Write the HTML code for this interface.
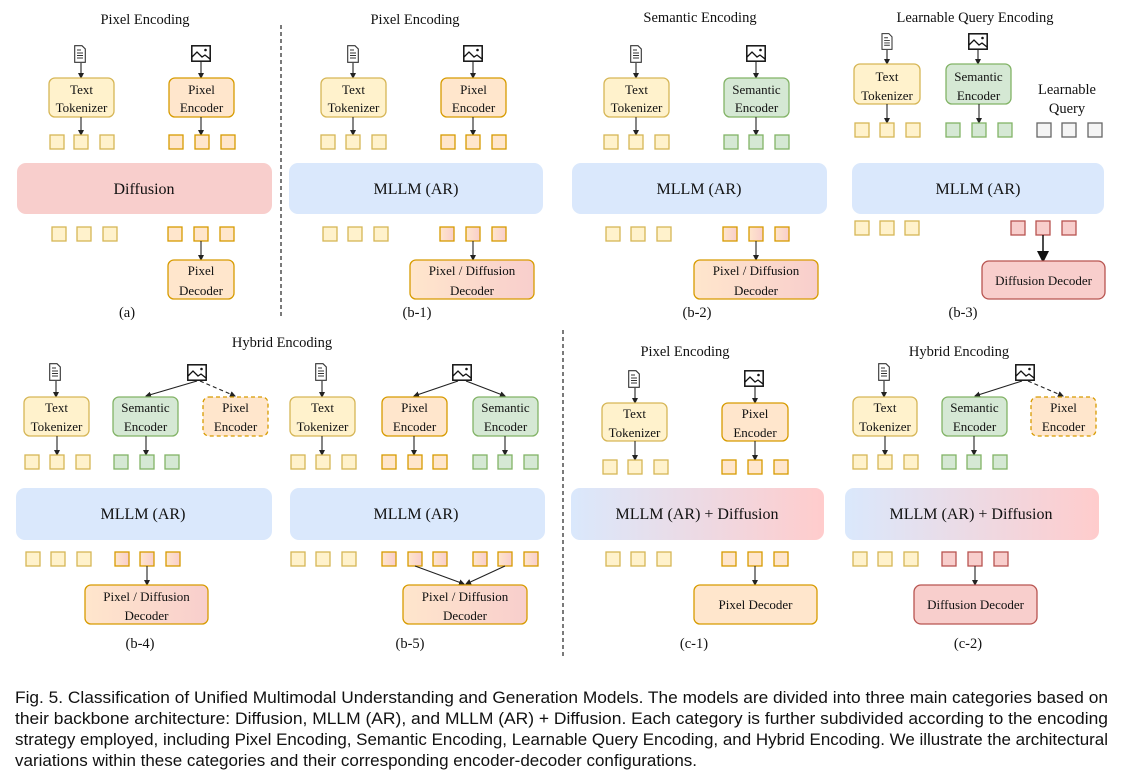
<!DOCTYPE html>
<html><head><meta charset="utf-8"><style>
html,body{margin:0;padding:0;background:#fff}
svg{display:block}
text{font-family:"Liberation Serif",serif;fill:#111}
.t{font-size:14.5px;text-anchor:middle}
.b{font-size:13px;text-anchor:middle}
.L{font-size:16px;text-anchor:middle}
.c{font-family:"Liberation Sans",sans-serif;font-size:16.5px;fill:#111}
.y{fill:#fff2cc;stroke:#d6b656;stroke-width:1.3}
.o{fill:#ffe6cc;stroke:#d79b00;stroke-width:1.3}
.g{fill:#d5e8d4;stroke:#82b366;stroke-width:1.3}
.r{fill:#f8cecc;stroke:#b85450;stroke-width:1.3}
.gr{fill:#f5f5f5;stroke:#666;stroke-width:1.3}
.op{fill:url(#gop);stroke:#d79b00;stroke-width:1.3}
.a{stroke:#222;stroke-width:1.1;fill:none;marker-end:url(#ah)}
.d{stroke:#222;stroke-width:1.1;fill:none;stroke-dasharray:4 3;marker-end:url(#ah)}
</style></head><body>
<svg width="1123" height="782" viewBox="0 0 1123 782" xmlns="http://www.w3.org/2000/svg">
<defs>
<linearGradient id="gop" x1="0" x2="1" y1="0" y2="0"><stop offset="0" stop-color="#ffe6cc"/><stop offset="1" stop-color="#f8cecc"/></linearGradient>
<linearGradient id="gbp" x1="0" x2="1" y1="0" y2="0"><stop offset="0" stop-color="#dae8fc"/><stop offset="1" stop-color="#ffcccc"/></linearGradient>
<marker id="ah" markerWidth="6" markerHeight="6" refX="5" refY="3" orient="auto" markerUnits="userSpaceOnUse"><path d="M0,0 L6,3 L0,6 z" fill="#222"/></marker>
<marker id="ahb" markerWidth="12" markerHeight="12" refX="10" refY="6" orient="auto" markerUnits="userSpaceOnUse"><path d="M0,0 L12,6 L0,12 z" fill="#111"/></marker>
<symbol id="doc" viewBox="0 0 12 18"><path d="M0.7,0.7 H8 L11.3,4 V17.3 H0.7 Z" fill="#fff" stroke="#333" stroke-width="1.1"/><path d="M3,5 H7 M3,8 H9 M3,10.5 H9 M3,13 H9" stroke="#333" stroke-width="1"/></symbol>
<symbol id="img" viewBox="0 0 20 17"><rect x="0.8" y="0.8" width="18.4" height="15.4" fill="#fff" stroke="#111" stroke-width="1.5"/><path d="M1,12 L6,7 L11,12 L14,10 L19,14" fill="none" stroke="#111" stroke-width="1.3"/><circle cx="14.5" cy="5" r="1.3" fill="#111"/></symbol>
</defs>

<line x1="281" y1="25" x2="281" y2="318" stroke="#333" stroke-width="1.3" stroke-dasharray="4 3"/>
<line x1="563" y1="330" x2="563" y2="656" stroke="#333" stroke-width="1.3" stroke-dasharray="4 3"/>

<!-- (a) -->
<text class="t" x="145" y="24">Pixel Encoding</text>
<use href="#doc" x="74" y="45" width="12" height="18"/>
<use href="#img" x="191" y="45" width="20" height="17"/>
<line class="a" x1="81" y1="63" x2="81" y2="78"/>
<line class="a" x1="201" y1="62" x2="201" y2="78"/>
<rect class="y" x="49" y="78" width="65" height="39" rx="6"/><text class="b" x="81.5" y="94">Text</text><text class="b" x="81.5" y="112">Tokenizer</text>
<rect class="o" x="169" y="78" width="65" height="39" rx="6"/><text class="b" x="201.5" y="94">Pixel</text><text class="b" x="201.5" y="112">Encoder</text>
<line class="a" x1="81" y1="117" x2="81" y2="135"/>
<line class="a" x1="201" y1="117" x2="201" y2="135"/>
<rect class="y" x="50" y="135" width="14" height="14"/><rect class="y" x="74" y="135" width="14" height="14"/><rect class="y" x="100" y="135" width="14" height="14"/>
<rect class="o" x="169" y="135" width="14" height="14"/><rect class="o" x="195" y="135" width="14" height="14"/><rect class="o" x="221" y="135" width="14" height="14"/>
<rect x="17" y="163" width="255" height="51" rx="9" fill="#f8cecc"/><text class="L" x="144" y="194">Diffusion</text>
<rect class="y" x="52" y="227" width="14" height="14"/><rect class="y" x="77" y="227" width="14" height="14"/><rect class="y" x="103" y="227" width="14" height="14"/>
<rect class="o" x="168" y="227" width="14" height="14"/><rect class="o" x="194" y="227" width="14" height="14"/><rect class="o" x="220" y="227" width="14" height="14"/>
<line class="a" x1="201" y1="241" x2="201" y2="260"/>
<rect class="o" x="168" y="260" width="66" height="39" rx="6"/><text class="b" x="201" y="275">Pixel</text><text class="b" x="201" y="295">Decoder</text>
<text class="t" x="127" y="317">(a)</text>

<!-- (b-1) -->
<text class="t" x="415" y="24">Pixel Encoding</text>
<use href="#doc" x="347" y="45" width="12" height="18"/>
<use href="#img" x="463" y="45" width="20" height="17"/>
<line class="a" x1="353" y1="63" x2="353" y2="78"/>
<line class="a" x1="473" y1="62" x2="473" y2="78"/>
<rect class="y" x="321" y="78" width="65" height="39" rx="6"/><text class="b" x="353.5" y="94">Text</text><text class="b" x="353.5" y="112">Tokenizer</text>
<rect class="o" x="441" y="78" width="65" height="39" rx="6"/><text class="b" x="473.5" y="94">Pixel</text><text class="b" x="473.5" y="112">Encoder</text>
<line class="a" x1="353" y1="117" x2="353" y2="135"/>
<line class="a" x1="473" y1="117" x2="473" y2="135"/>
<rect class="y" x="321" y="135" width="14" height="14"/><rect class="y" x="346" y="135" width="14" height="14"/><rect class="y" x="372" y="135" width="14" height="14"/>
<rect class="o" x="441" y="135" width="14" height="14"/><rect class="o" x="466" y="135" width="14" height="14"/><rect class="o" x="492" y="135" width="14" height="14"/>
<rect x="289" y="163" width="254" height="51" rx="9" fill="#dae8fc"/><text class="L" x="416" y="194">MLLM (AR)</text>
<rect class="y" x="323" y="227" width="14" height="14"/><rect class="y" x="348" y="227" width="14" height="14"/><rect class="y" x="374" y="227" width="14" height="14"/>
<rect class="op" x="440" y="227" width="14" height="14"/><rect class="op" x="466" y="227" width="14" height="14"/><rect class="op" x="492" y="227" width="14" height="14"/>
<line class="a" x1="473" y1="241" x2="473" y2="260"/>
<rect class="op" x="410" y="260" width="124" height="39" rx="6"/><text class="b" x="472" y="275">Pixel / Diffusion</text><text class="b" x="472" y="295">Decoder</text>
<text class="t" x="417" y="317">(b-1)</text>

<!-- (b-2) -->
<text class="t" x="700" y="22">Semantic Encoding</text>
<use href="#doc" x="630" y="45" width="12" height="18"/>
<use href="#img" x="746" y="45" width="20" height="17"/>
<line class="a" x1="636" y1="63" x2="636" y2="78"/>
<line class="a" x1="756" y1="62" x2="756" y2="78"/>
<rect class="y" x="604" y="78" width="65" height="39" rx="6"/><text class="b" x="636.5" y="94">Text</text><text class="b" x="636.5" y="112">Tokenizer</text>
<rect class="g" x="724" y="78" width="65" height="39" rx="6"/><text class="b" x="756.5" y="94">Semantic</text><text class="b" x="756.5" y="112">Encoder</text>
<line class="a" x1="636" y1="117" x2="636" y2="135"/>
<line class="a" x1="756" y1="117" x2="756" y2="135"/>
<rect class="y" x="604" y="135" width="14" height="14"/><rect class="y" x="629" y="135" width="14" height="14"/><rect class="y" x="655" y="135" width="14" height="14"/>
<rect class="g" x="724" y="135" width="14" height="14"/><rect class="g" x="749" y="135" width="14" height="14"/><rect class="g" x="775" y="135" width="14" height="14"/>
<rect x="572" y="163" width="255" height="51" rx="9" fill="#dae8fc"/><text class="L" x="699" y="194">MLLM (AR)</text>
<rect class="y" x="606" y="227" width="14" height="14"/><rect class="y" x="631" y="227" width="14" height="14"/><rect class="y" x="657" y="227" width="14" height="14"/>
<rect class="op" x="723" y="227" width="14" height="14"/><rect class="op" x="749" y="227" width="14" height="14"/><rect class="op" x="775" y="227" width="14" height="14"/>
<line class="a" x1="756" y1="241" x2="756" y2="260"/>
<rect class="op" x="694" y="260" width="124" height="39" rx="6"/><text class="b" x="756" y="275">Pixel / Diffusion</text><text class="b" x="756" y="295">Decoder</text>
<text class="t" x="697" y="317">(b-2)</text>

<!-- (b-3) -->
<text class="t" x="975" y="22">Learnable Query Encoding</text>
<use href="#doc" x="881" y="33" width="12" height="17"/>
<use href="#img" x="968" y="33" width="20" height="17"/>
<line class="a" x1="887" y1="50" x2="887" y2="64"/>
<line class="a" x1="978" y1="50" x2="978" y2="64"/>
<rect class="y" x="854" y="64" width="66" height="40" rx="6"/><text class="b" x="887" y="81">Text</text><text class="b" x="887" y="100">Tokenizer</text>
<rect class="g" x="946" y="64" width="65" height="40" rx="6"/><text class="b" x="978.5" y="81">Semantic</text><text class="b" x="978.5" y="100">Encoder</text>
<text class="t" x="1067" y="94">Learnable</text><text class="t" x="1067" y="113">Query</text>
<line class="a" x1="887" y1="104" x2="887" y2="123"/>
<line class="a" x1="979" y1="104" x2="979" y2="123"/>
<rect class="y" x="855" y="123" width="14" height="14"/><rect class="y" x="880" y="123" width="14" height="14"/><rect class="y" x="906" y="123" width="14" height="14"/>
<rect class="g" x="946" y="123" width="14" height="14"/><rect class="g" x="972" y="123" width="14" height="14"/><rect class="g" x="998" y="123" width="14" height="14"/>
<rect class="gr" x="1037" y="123" width="14" height="14"/><rect class="gr" x="1062" y="123" width="14" height="14"/><rect class="gr" x="1088" y="123" width="14" height="14"/>
<rect x="852" y="163" width="252" height="51" rx="9" fill="#dae8fc"/><text class="L" x="978" y="194">MLLM (AR)</text>
<rect class="y" x="855" y="221" width="14" height="14"/><rect class="y" x="880" y="221" width="14" height="14"/><rect class="y" x="905" y="221" width="14" height="14"/>
<rect class="r" x="1011" y="221" width="14" height="14"/><rect class="r" x="1036" y="221" width="14" height="14"/><rect class="r" x="1062" y="221" width="14" height="14"/>
<line x1="1043" y1="235" x2="1043" y2="261" stroke="#111" stroke-width="1.5" marker-end="url(#ahb)"/>
<rect class="r" x="982" y="261" width="123" height="38" rx="7"/><text class="b" x="1043.5" y="285">Diffusion Decoder</text>
<text class="t" x="963" y="317">(b-3)</text>

<text class="t" x="282" y="347">Hybrid Encoding</text>

<!-- (b-4) -->
<use href="#doc" x="49" y="363" width="12" height="18"/>
<use href="#img" x="187" y="364" width="20" height="17"/>
<line class="a" x1="56" y1="381" x2="56" y2="397"/>
<line class="a" x1="197" y1="381" x2="146" y2="396"/>
<line class="d" x1="200" y1="381" x2="235" y2="396"/>
<rect class="y" x="24" y="397" width="65" height="39" rx="6"/><text class="b" x="56.5" y="412">Text</text><text class="b" x="56.5" y="431">Tokenizer</text>
<rect class="g" x="113" y="397" width="65" height="39" rx="6"/><text class="b" x="145.5" y="412">Semantic</text><text class="b" x="145.5" y="431">Encoder</text>
<rect class="o" x="203" y="397" width="65" height="39" rx="6" stroke-dasharray="4 3"/><text class="b" x="235.5" y="412">Pixel</text><text class="b" x="235.5" y="431">Encoder</text>
<line class="a" x1="57" y1="436" x2="57" y2="455"/>
<line class="a" x1="146" y1="436" x2="146" y2="455"/>
<rect class="y" x="25" y="455" width="14" height="14"/><rect class="y" x="50" y="455" width="14" height="14"/><rect class="y" x="76" y="455" width="14" height="14"/>
<rect class="g" x="114" y="455" width="14" height="14"/><rect class="g" x="140" y="455" width="14" height="14"/><rect class="g" x="165" y="455" width="14" height="14"/>
<rect x="16" y="488" width="256" height="52" rx="9" fill="#dae8fc"/><text class="L" x="143" y="519">MLLM (AR)</text>
<rect class="y" x="26" y="552" width="14" height="14"/><rect class="y" x="51" y="552" width="14" height="14"/><rect class="y" x="77" y="552" width="14" height="14"/>
<rect class="op" x="115" y="552" width="14" height="14"/><rect class="op" x="140" y="552" width="14" height="14"/><rect class="op" x="166" y="552" width="14" height="14"/>
<line class="a" x1="147" y1="566" x2="147" y2="585"/>
<rect class="op" x="85" y="585" width="123" height="39" rx="6"/><text class="b" x="146.5" y="601">Pixel / Diffusion</text><text class="b" x="146.5" y="620">Decoder</text>
<text class="t" x="140" y="648">(b-4)</text>

<!-- (b-5) -->
<use href="#doc" x="315" y="363" width="12" height="18"/>
<use href="#img" x="452" y="364" width="20" height="17"/>
<line class="a" x1="322" y1="381" x2="322" y2="397"/>
<line class="a" x1="458" y1="381" x2="414" y2="396"/>
<line class="a" x1="466" y1="381" x2="505" y2="396"/>
<rect class="y" x="290" y="397" width="65" height="39" rx="6"/><text class="b" x="322.5" y="412">Text</text><text class="b" x="322.5" y="431">Tokenizer</text>
<rect class="o" x="382" y="397" width="65" height="39" rx="6"/><text class="b" x="414.5" y="412">Pixel</text><text class="b" x="414.5" y="431">Encoder</text>
<rect class="g" x="473" y="397" width="65" height="39" rx="6"/><text class="b" x="505.5" y="412">Semantic</text><text class="b" x="505.5" y="431">Encoder</text>
<line class="a" x1="322" y1="436" x2="322" y2="455"/>
<line class="a" x1="414" y1="436" x2="414" y2="455"/>
<line class="a" x1="505" y1="436" x2="505" y2="455"/>
<rect class="y" x="291" y="455" width="14" height="14"/><rect class="y" x="316" y="455" width="14" height="14"/><rect class="y" x="342" y="455" width="14" height="14"/>
<rect class="o" x="382" y="455" width="14" height="14"/><rect class="o" x="408" y="455" width="14" height="14"/><rect class="o" x="433" y="455" width="14" height="14"/>
<rect class="g" x="473" y="455" width="14" height="14"/><rect class="g" x="498" y="455" width="14" height="14"/><rect class="g" x="524" y="455" width="14" height="14"/>
<rect x="290" y="488" width="255" height="52" rx="9" fill="#dae8fc"/><text class="L" x="416" y="519">MLLM (AR)</text>
<rect class="y" x="291" y="552" width="14" height="14"/><rect class="y" x="316" y="552" width="14" height="14"/><rect class="y" x="342" y="552" width="14" height="14"/>
<rect class="op" x="382" y="552" width="14" height="14"/><rect class="op" x="408" y="552" width="14" height="14"/><rect class="op" x="433" y="552" width="14" height="14"/>
<rect class="op" x="473" y="552" width="14" height="14"/><rect class="op" x="498" y="552" width="14" height="14"/><rect class="op" x="524" y="552" width="14" height="14"/>
<line class="a" x1="415" y1="566" x2="464" y2="584"/>
<line class="a" x1="505" y1="566" x2="466" y2="584"/>
<rect class="op" x="403" y="585" width="124" height="39" rx="6"/><text class="b" x="465" y="601">Pixel / Diffusion</text><text class="b" x="465" y="620">Decoder</text>
<text class="t" x="410" y="648">(b-5)</text>

<!-- (c-1) -->
<text class="t" x="685" y="356">Pixel Encoding</text>
<use href="#doc" x="628" y="370" width="12" height="18"/>
<use href="#img" x="744" y="370" width="20" height="17"/>
<line class="a" x1="635" y1="388" x2="635" y2="403"/>
<line class="a" x1="755" y1="387" x2="755" y2="403"/>
<rect class="y" x="602" y="403" width="65" height="38" rx="6"/><text class="b" x="634.5" y="418">Text</text><text class="b" x="634.5" y="437">Tokenizer</text>
<rect class="o" x="722" y="403" width="66" height="38" rx="6"/><text class="b" x="755" y="418">Pixel</text><text class="b" x="755" y="437">Encoder</text>
<line class="a" x1="635" y1="441" x2="635" y2="460"/>
<line class="a" x1="755" y1="441" x2="755" y2="460"/>
<rect class="y" x="603" y="460" width="14" height="14"/><rect class="y" x="628" y="460" width="14" height="14"/><rect class="y" x="654" y="460" width="14" height="14"/>
<rect class="o" x="722" y="460" width="14" height="14"/><rect class="o" x="748" y="460" width="14" height="14"/><rect class="o" x="774" y="460" width="14" height="14"/>
<rect x="571" y="488" width="253" height="52" rx="9" fill="url(#gbp)"/><text class="L" x="697" y="519">MLLM (AR) + Diffusion</text>
<rect class="y" x="606" y="552" width="14" height="14"/><rect class="y" x="631" y="552" width="14" height="14"/><rect class="y" x="657" y="552" width="14" height="14"/>
<rect class="o" x="722" y="552" width="14" height="14"/><rect class="o" x="748" y="552" width="14" height="14"/><rect class="o" x="774" y="552" width="14" height="14"/>
<line class="a" x1="755" y1="566" x2="755" y2="585"/>
<rect class="o" x="694" y="585" width="123" height="39" rx="6"/><text class="b" x="755.5" y="609">Pixel Decoder</text>
<text class="t" x="694" y="648">(c-1)</text>

<!-- (c-2) -->
<text class="t" x="959" y="356">Hybrid Encoding</text>
<use href="#doc" x="878" y="363" width="12" height="18"/>
<use href="#img" x="1015" y="364" width="20" height="17"/>
<line class="a" x1="884" y1="381" x2="884" y2="397"/>
<line class="a" x1="1022" y1="381" x2="975" y2="396"/>
<line class="d" x1="1028" y1="381" x2="1063" y2="396"/>
<rect class="y" x="853" y="397" width="64" height="39" rx="6"/><text class="b" x="885" y="412">Text</text><text class="b" x="885" y="431">Tokenizer</text>
<rect class="g" x="942" y="397" width="65" height="39" rx="6"/><text class="b" x="974.5" y="412">Semantic</text><text class="b" x="974.5" y="431">Encoder</text>
<rect class="o" x="1031" y="397" width="65" height="39" rx="6" stroke-dasharray="4 3"/><text class="b" x="1063.5" y="412">Pixel</text><text class="b" x="1063.5" y="431">Encoder</text>
<line class="a" x1="885" y1="436" x2="885" y2="455"/>
<line class="a" x1="974" y1="436" x2="974" y2="455"/>
<rect class="y" x="853" y="455" width="14" height="14"/><rect class="y" x="878" y="455" width="14" height="14"/><rect class="y" x="904" y="455" width="14" height="14"/>
<rect class="g" x="942" y="455" width="14" height="14"/><rect class="g" x="967" y="455" width="14" height="14"/><rect class="g" x="993" y="455" width="14" height="14"/>
<rect x="845" y="488" width="254" height="52" rx="9" fill="url(#gbp)"/><text class="L" x="971" y="519">MLLM (AR) + Diffusion</text>
<rect class="y" x="853" y="552" width="14" height="14"/><rect class="y" x="878" y="552" width="14" height="14"/><rect class="y" x="904" y="552" width="14" height="14"/>
<rect class="r" x="942" y="552" width="14" height="14"/><rect class="r" x="968" y="552" width="14" height="14"/><rect class="r" x="994" y="552" width="14" height="14"/>
<line class="a" x1="975" y1="566" x2="975" y2="585"/>
<rect class="r" x="914" y="585" width="123" height="39" rx="7"/><text class="b" x="975.5" y="609">Diffusion Decoder</text>
<text class="t" x="968" y="648">(c-2)</text>

<!-- caption -->
<text class="c" x="15" y="703" textLength="1093" lengthAdjust="spacingAndGlyphs">Fig. 5. Classification of Unified Multimodal Understanding and Generation Models. The models are divided into three main categories based on</text>
<text class="c" x="15" y="724" textLength="1093" lengthAdjust="spacingAndGlyphs">their backbone architecture: Diffusion, MLLM (AR), and MLLM (AR) + Diffusion. Each category is further subdivided according to the encoding</text>
<text class="c" x="15" y="745" textLength="1093" lengthAdjust="spacingAndGlyphs">strategy employed, including Pixel Encoding, Semantic Encoding, Learnable Query Encoding, and Hybrid Encoding. We illustrate the architectural</text>
<text class="c" x="15" y="766" textLength="682" lengthAdjust="spacingAndGlyphs">variations within these categories and their corresponding encoder-decoder configurations.</text>
</svg>
</body></html>
